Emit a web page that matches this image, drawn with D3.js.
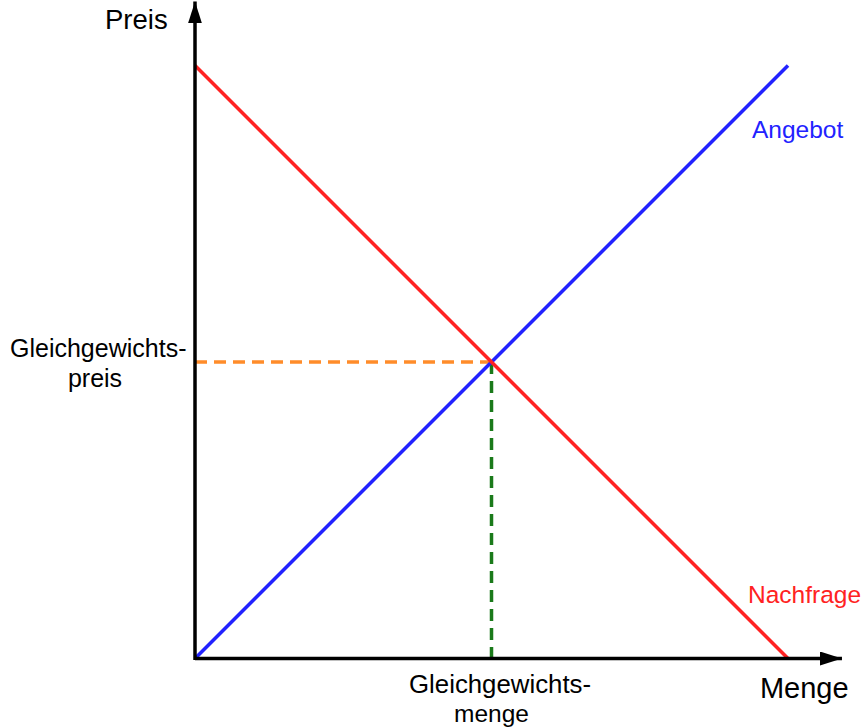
<!DOCTYPE html>
<html>
<head>
<meta charset="utf-8">
<script src="https://cdn.jsdelivr.net/npm/d3@7"></script>
<style>
  html, body { margin: 0; padding: 0; background: #fff; }
  svg { display: block; font-family: "Liberation Sans", Arial, sans-serif; }
</style>
</head>
<body>
<svg id="chart" width="864" height="727"></svg>
<script>
// Data (abstract units)
const quantityDomain = [0, 10];
const priceDomain = [0, 10];
const supplyPoints = [[0, 0], [10, 10]];      // Angebot
const demandPoints = [[0, 10], [10, 0]];      // Nachfrage
const equilibrium = [5, 5];
const axisExtent = { x: 10.91, y: 11.08 };
const labels = {
  yAxis: "Preis",
  xAxis: "Menge",
  supply: "Angebot",
  demand: "Nachfrage",
  eqPrice: ["Gleichgewichts-", "preis"],
  eqQty: ["Gleichgewichts-", "menge"]
};

const svg = d3.select("#chart");
const x = d3.scaleLinear().domain(quantityDomain).range([195, 788]);
const y = d3.scaleLinear().domain(priceDomain).range([658.5, 65.5]);

const line = d3.line().x(d => x(d[0])).y(d => y(d[1]));

// markers
const defs = svg.append("defs");
defs.append("marker")
  .attr("id", "arrow")
  .attr("viewBox", "0 0 22 14")
  .attr("refX", 22).attr("refY", 7)
  .attr("markerWidth", 22).attr("markerHeight", 14)
  .attr("markerUnits", "userSpaceOnUse")
  .attr("orient", "auto")
  .append("path").attr("d", "M0,0 L22,7 L0,14 Z").attr("fill", "#000");

// dashed guide lines
svg.append("line")
  .attr("x1", x(0)).attr("y1", y(equilibrium[1]))
  .attr("x2", x(equilibrium[0])).attr("y2", y(equilibrium[1]))
  .attr("stroke", "#ff8c2a").attr("stroke-width", 3.5)
  .attr("stroke-dasharray", "12,7");
svg.append("line")
  .attr("x1", x(equilibrium[0])).attr("y1", y(equilibrium[1]))
  .attr("x2", x(equilibrium[0])).attr("y2", y(0))
  .attr("stroke", "#1a7a1a").attr("stroke-width", 3.5)
  .attr("stroke-dasharray", "12,7");

// curves
svg.append("path").datum(supplyPoints).attr("d", line)
  .attr("fill", "none").attr("stroke", "#2222ff").attr("stroke-width", 3.5);
svg.append("path").datum(demandPoints).attr("d", line)
  .attr("fill", "none").attr("stroke", "#ff2222").attr("stroke-width", 3.5);

// axes with arrows
svg.append("line")
  .attr("x1", x(0)).attr("y1", y(0))
  .attr("x2", x(axisExtent.x)).attr("y2", y(0))
  .attr("stroke", "#000").attr("stroke-width", 3.5)
  .attr("marker-end", "url(#arrow)");
svg.append("line")
  .attr("x1", x(0)).attr("y1", y(0) + 1.5)
  .attr("x2", x(0)).attr("y2", y(axisExtent.y))
  .attr("stroke", "#000").attr("stroke-width", 3.5)
  .attr("marker-end", "url(#arrow)");

// text labels
function txt(str, px, py, size, color, anchor) {
  return svg.append("text")
    .attr("x", px).attr("y", py)
    .attr("font-size", size)
    .attr("fill", color)
    .attr("text-anchor", anchor || "start")
    .text(str);
}

txt(labels.yAxis, x(0) - 90, 29, 27.5, "#000", "start");
txt(labels.xAxis, x(axisExtent.x) - 82, 698, 29, "#000", "start");
txt(labels.supply, x(10) - 36, 138, 24.5, "#2222ff", "start");
txt(labels.demand, x(10) - 40, 603, 24.5, "#ff2222", "start");

txt(labels.eqPrice[0], 10, 357, 25, "#000", "start");
txt(labels.eqPrice[1], 95, 387, 25, "#000", "middle");

txt(labels.eqQty[0], 409, 693, 25.8, "#000", "start");
txt(labels.eqQty[1], x(equilibrium[0]), 722, 24.5, "#000", "middle");
</script>
</body>
</html>
